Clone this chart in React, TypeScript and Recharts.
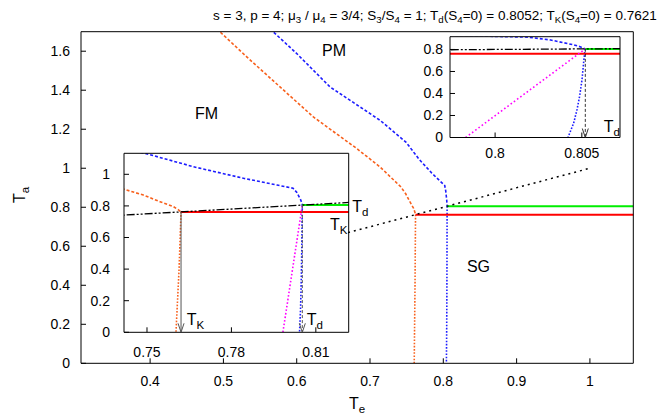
import React from 'react';
import { LineChart, Line, XAxis, YAxis, ReferenceDot } from 'recharts';

const FONT = '"Liberation Sans", Arial, Helvetica, sans-serif';

const TK = 0.7621;
const TD = 0.8052;

// phase boundaries as [T_e, T_a] pairs
const orangeUpper = [
  [0.493, 1.72], [0.4954, 1.699], [0.5318, 1.571], [0.5772, 1.417], [0.6227, 1.263],
  [0.6819, 1.101], [0.7136, 1.007], [0.7419, 0.905], [0.7487, 0.869], [0.7546, 0.827],
  [0.7594, 0.795], [0.7612, 0.775], [TK, TK],
];
const orangeLower = [[TK, TK], [0.7614, 0.4], [0.7603, 0]];
const blueUpper = [
  [0.566, 1.72], [0.5681, 1.699], [0.6, 1.588], [0.6454, 1.417], [0.7136, 1.246],
  [0.7493, 1.133], [0.7665, 1.048], [0.7843, 0.975], [0.7962, 0.932], [0.8019, 0.912],
  [0.8032, 0.886], [0.8045, 0.843], [0.8049, 0.825], [0.8051, 0.812], [TD, TD],
];
const blueLower = [
  [TD, TD], [0.80516, 0.767], [0.8051, 0.676], [0.80501, 0.525], [0.80487, 0.373],
  [0.80472, 0.252], [0.80453, 0.131], [0.8042, 0],
];
const magenta = [[0.7983, 0], [TD, TD]];
const redLine = [[TK, TK], [1.1, TK]];
const greenLine = [[TD, TD], [1.1, TD]];
const diagMain = [[0.67, 0.67], [1.0, 1.0]];
const diagInset = [[0.73, 0.73], [0.83, 0.83]];
const arrowTK = [[TK, TK], [TK, 0]];
const arrowTD = [[TD, TD], [TD, 0]];

const mainXTicks = [0.4, 0.5, 0.6, 0.7, 0.8, 0.9, 1];
const mainYTicks = [0, 0.2, 0.4, 0.6, 0.8, 1, 1.2, 1.4, 1.6];
const in1XTicks = [0.75, 0.78, 0.81];
const in1YTicks = [0, 0.2, 0.4, 0.6, 0.8, 1];
const in2XTicks = [0.8, 0.805];
const in2YTicks = [0, 0.2, 0.4, 0.6, 0.8];

const pts = (a: number[][]) => a.map(([x, y]) => ({ x, y }));

const ORANGE = '#f8601c';
const BLUE = '#1c1cff';

const tickStyle = { fontSize: 14, fill: '#000', fontFamily: FONT };

function frame(xd: number[], yd: number[], xt: number[], yt: number[], o: any) {
  return [
    <XAxis key="xb" type="number" dataKey="x" domain={xd} ticks={xt} interval={0} allowDataOverflow
      tickSize={-5} tickMargin={o.xm} height={o.xh} tick={tickStyle}
      axisLine={{ stroke: '#000' }} tickLine={{ stroke: '#000' }} />,
    <XAxis key="xt" xAxisId="top" orientation="top" type="number" domain={xd} ticks={xt} interval={0}
      allowDataOverflow tickSize={-5} height={1} tick={false}
      axisLine={{ stroke: '#000' }} tickLine={{ stroke: '#000' }} />,
    <YAxis key="yl" type="number" dataKey="y" domain={yd} ticks={yt} interval={0} allowDataOverflow
      tickSize={-5} tickMargin={o.ym} width={o.yw} tick={tickStyle}
      axisLine={{ stroke: '#000' }} tickLine={{ stroke: '#000' }} />,
    <YAxis key="yr" yAxisId="right" orientation="right" type="number" domain={yd} ticks={yt} interval={0}
      allowDataOverflow tickSize={-5} width={1} tick={false}
      axisLine={{ stroke: '#000' }} tickLine={{ stroke: '#000' }} />,
  ];
}

const arrowHead = (color: string) => (p: any) =>
  p.index === 1 ? (
    <path key={`a${p.index}`} d={`M${p.cx - 3},${p.cy - 9}L${p.cx},${p.cy}L${p.cx + 3},${p.cy - 9}`}
      stroke={color} fill="none" strokeWidth={1} />
  ) : (
    <g key={`a${p.index}`} />
  );

const subText = (main: string, sub: string, size = 16, anchor = 'start') => (p: any) => (
  <text x={p.cx} y={p.cy} fontFamily={FONT} fontSize={size} fill="#000" textAnchor={anchor}>
    {main}
    <tspan dy={4} fontSize={size * 0.72}>{sub}</tspan>
  </text>
);

const plain = (s: string) => (p: any) => (
  <text x={p.cx} y={p.cy} fontFamily={FONT} fontSize={16} fill="#000" textAnchor="middle" dominantBaseline="central">
    {s}
  </text>
);

function curves(dotted: boolean) {
  return [
    <Line key="ou" data={pts(orangeUpper)} dataKey="y" stroke={ORANGE} strokeWidth={1.6} strokeDasharray="3 2" dot={false} isAnimationActive={false} />,
    <Line key="ol" data={pts(orangeLower)} dataKey="y" stroke={ORANGE} strokeWidth={1.6} strokeDasharray="1.6 1.6" dot={false} isAnimationActive={false} />,
    <Line key="bu" data={pts(blueUpper)} dataKey="y" stroke={BLUE} strokeWidth={1.6} strokeDasharray="3 2" dot={false} isAnimationActive={false} />,
    <Line key="bl" data={pts(blueLower)} dataKey="y" stroke={BLUE} strokeWidth={1.6} strokeDasharray="1.6 1.6" dot={false} isAnimationActive={false} />,
    <Line key="rd" data={pts(redLine)} dataKey="y" stroke="#ff0000" strokeWidth={2} dot={false} isAnimationActive={false} />,
    <Line key="gr" data={pts(greenLine)} dataKey="y" stroke="#00ee00" strokeWidth={2} dot={false} isAnimationActive={false} />,
    dotted ? (
      <Line key="dg" data={pts(diagMain)} dataKey="y" stroke="#000" strokeWidth={1.5} strokeDasharray="2 4" dot={false} isAnimationActive={false} />
    ) : (
      <Line key="dg" data={pts(diagInset)} dataKey="y" stroke="#000" strokeWidth={1.3} strokeDasharray="8 2 2 2 2 2" dot={false} isAnimationActive={false} />
    ),
  ];
}

export default function App() {
  return (
    <div style={{ position: 'relative', width: 664, height: 417, fontFamily: FONT, background: '#fff' }}>
      <style>{'body{margin:0}'}</style>
      <LineChart width={664} height={417} margin={{ top: 30.7, right: 29.7, bottom: 0, left: 0 }}>
        {frame([0.3057, 1.0592], [0, 1.7], mainXTicks, mainYTicks, { xm: 18, xh: 53.7, ym: 16, yw: 81 })}
        {curves(true)}
        <ReferenceDot x={0.477} y={1.282} r={0} ifOverflow="visible" shape={plain('FM')} />
        <ReferenceDot x={0.651} y={1.605} r={0} ifOverflow="visible" shape={plain('PM')} />
        <ReferenceDot x={0.848} y={0.498} r={0} ifOverflow="visible" shape={plain('SG')} />
      </LineChart>

      <div style={{ position: 'absolute', left: 84, top: 143 }}>
        <LineChart width={300} height={225} margin={{ top: 9.3, right: 34.3, bottom: 0, left: 0 }}>
          {frame([0.74183, 0.82168], [0, 1.133], in1XTicks, in1YTicks, { xm: 19.4, xh: 35.7, ym: 19, yw: 40 })}
          {curves(false)}
          <Line data={pts(magenta)} dataKey="y" stroke="#ff00ff" strokeWidth={1.6} strokeDasharray="1.6 2" dot={false} isAnimationActive={false} />
          <Line data={pts(arrowTK)} dataKey="y" stroke="#555" strokeWidth={1} dot={arrowHead('#555')} isAnimationActive={false} />
          <Line data={pts(arrowTD)} dataKey="y" stroke="#555" strokeWidth={1} strokeDasharray="3 2" dot={arrowHead('#555')} isAnimationActive={false} />
          <ReferenceDot x={0.7641} y={0.046} r={0} ifOverflow="visible" shape={subText('T', 'K')} />
          <ReferenceDot x={0.8068} y={0.046} r={0} ifOverflow="visible" shape={subText('T', 'd')} />
          <ReferenceDot x={0.8229} y={0.763} r={0} ifOverflow="visible" shape={subText('T', 'd')} />
          <ReferenceDot x={0.815} y={0.647} r={0} ifOverflow="visible" shape={subText('T', 'K')} />
        </LineChart>
      </div>

      <div style={{ position: 'absolute', left: 400, top: 26 }}>
        <LineChart width={250} height={140} margin={{ top: 9.7, right: 29, bottom: 0, left: 0 }}>
          {frame([0.7974, 0.8072], [0, 0.916], in2XTicks, in2YTicks, { xm: 15.8, xh: 28.5, ym: 12, yw: 50 })}
          {curves(false)}
          <Line data={pts(magenta)} dataKey="y" stroke="#ff00ff" strokeWidth={1.6} strokeDasharray="1.6 2.4" dot={false} isAnimationActive={false} />
          <Line data={pts(arrowTD)} dataKey="y" stroke="#000" strokeWidth={0.8} strokeDasharray="3 2" dot={arrowHead('#333')} isAnimationActive={false} />
          <ReferenceDot x={0.80626} y={0.053} r={0} ifOverflow="visible" shape={subText('T', 'd')} />
        </LineChart>
      </div>

      <div style={{ position: 'absolute', left: 213, top: 8, fontSize: 13.5, whiteSpace: 'nowrap', color: '#000' }}>
        s = 3, p = 4; μ<Sub>3</Sub> / μ<Sub>4</Sub> = 3/4; S<Sub>3</Sub>/S<Sub>4</Sub> = 1; T<Sub>d</Sub>(S<Sub>4</Sub>=0) = 0.8052; T<Sub>K</Sub>(S<Sub>4</Sub>=0) = 0.7621
      </div>
      <div style={{ position: 'absolute', left: 357, top: 395, transform: 'translateX(-50%)', fontSize: 16, whiteSpace: 'nowrap' }}>
        T<Sub>e</Sub>
      </div>
      <div style={{ position: 'absolute', left: 20, top: 195, transform: 'translate(-50%,-50%) rotate(-90deg)', fontSize: 16, whiteSpace: 'nowrap' }}>
        T<Sub>a</Sub>
      </div>
    </div>
  );
}

function Sub({ children }: { children: React.ReactNode }) {
  return <span style={{ fontSize: '0.72em', position: 'relative', top: '0.35em' }}>{children}</span>;
}
